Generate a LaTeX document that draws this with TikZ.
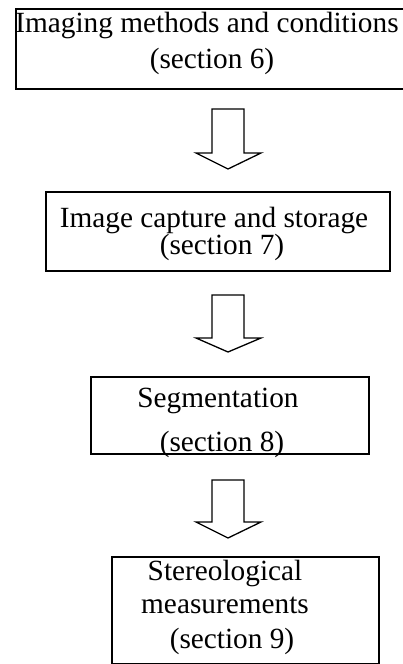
\documentclass[tikz,border=0pt]{standalone}
\usepackage{fontspec}
\setmainfont{Liberation Serif}
\usetikzlibrary{positioning}

\begin{document}
\begin{tikzpicture}[x=1pt, y=-1pt,
		box/.style={draw, line width=1.6pt, inner sep=0pt, anchor=north west},
		boxtext/.style={anchor=base, inner sep=0pt, font=\fontsize{29.3}{35}\selectfont},
		blockarrow/.style={draw, line width=1.3pt, line join=miter}]
	\useasboundingbox (0,0) rectangle (403,664);

	% Draw the boxes
	\node[box, minimum width=395pt, minimum height=80pt] (imaging) at (15,8) {};
	\node[box, minimum width=344pt, minimum height=79pt] (capture) at (45,191) {};
	\node[box, minimum width=278pt, minimum height=77pt] (segment) at (90,376) {};
	\node[box, minimum width=267pt, minimum height=107pt] (stereo) at (111,556) {};

	% Texts in the boxes
	\node[boxtext] (imaging1) at (207,32) {Imaging methods and conditions};
	\node[boxtext] (imaging2) at (212,68) {(section 6)};
	\node[boxtext] (capture1) at (214,227) {Image capture and storage};
	\node[boxtext] (capture2) at (222,254) {(section 7)};
	\node[boxtext] (segment1) at (218,407) {Segmentation};
	\node[boxtext] (segment2) at (222,451) {(section 8)};
	\node[boxtext] (stereo1) at (225,580) {Stereological};
	\node[boxtext] (stereo2) at (225,613) {measurements};
	\node[boxtext] (stereo3) at (232,648) {(section 9)};

	% Draw the block arrows between the boxes
	\foreach \top/\base/\tip in {109/153/169, 295/338/352, 480/522/538} {
		\draw[blockarrow] (212,\top) -- (244,\top) -- (244,\base) -- (261,\base)
			-- (228,\tip) -- (196,\base) -- (212,\base) -- cycle;
	}

\end{tikzpicture}
\end{document}
